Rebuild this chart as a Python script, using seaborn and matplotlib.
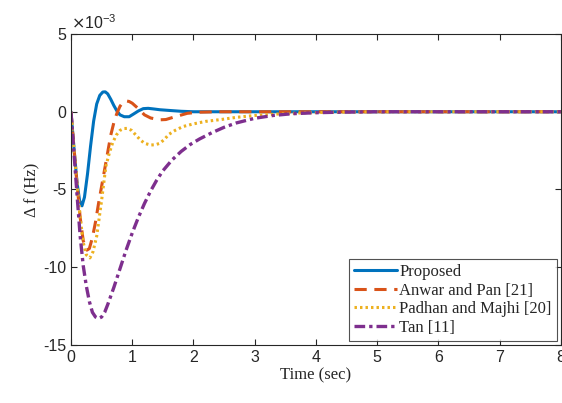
import numpy as np
import pandas as pd
import matplotlib
matplotlib.use("Agg")
import matplotlib.pyplot as plt
import seaborn as sns
from matplotlib.ticker import FuncFormatter

# ---- data (values in 1e-3 Hz) ----
t_prop = [0, 0.05, 0.1, 0.14, 0.18, 0.22, 0.27, 0.32, 0.37, 0.42, 0.47, 0.52, 0.56, 0.6, 0.65,
          0.7, 0.75, 0.8, 0.87, 0.95, 1.02, 1.1, 1.18, 1.26, 1.35, 1.45, 1.62, 1.8, 2.0, 2.5, 3.0, 8.0]
v_prop = [0, -2.4, -4.6, -5.7, -6.05, -5.5, -4.0, -2.2, -0.6, 0.5, 1.05, 1.27, 1.28, 1.15, 0.8,
          0.4, 0.05, -0.2, -0.32, -0.32, -0.15, 0.05, 0.2, 0.22, 0.18, 0.13, 0.08, 0.03, 0.0, 0.0, 0.0, 0.0]

t_anwar = [0, 0.05, 0.1, 0.15, 0.2, 0.26, 0.3, 0.35, 0.4, 0.45, 0.5, 0.55, 0.6, 0.65, 0.7, 0.75,
           0.8, 0.85, 0.9, 0.95, 1.0, 1.1, 1.2, 1.3, 1.45, 1.55, 1.7, 1.9, 2.1, 2.4, 2.8, 8.0]
v_anwar = [0, -2.4, -4.7, -6.8, -8.3, -8.9, -8.8, -8.1, -7.1, -5.9, -4.8, -3.7, -2.6, -1.5, -0.7,
           -0.1, 0.35, 0.62, 0.7, 0.66, 0.55, 0.2, -0.2, -0.4, -0.52, -0.5, -0.32, -0.1, -0.03, 0.0, 0.0, 0.0]

t_padhan = [0, 0.05, 0.1, 0.15, 0.2, 0.25, 0.31, 0.36, 0.42, 0.5, 0.57, 0.63, 0.68, 0.74, 0.8,
            0.86, 0.92, 0.99, 1.06, 1.13, 1.2, 1.3, 1.38, 1.45, 1.52, 1.6, 1.7, 1.83, 2.0, 2.2,
            2.45, 2.7, 3.0, 3.4, 3.8, 4.3, 5.0, 8.0]
v_padhan = [0, -2.4, -4.7, -6.8, -8.4, -9.2, -9.4, -9.0, -8.0, -5.7, -3.5, -2.6, -2.0, -1.5, -1.2,
            -1.08, -1.07, -1.2, -1.5, -1.8, -2.03, -2.14, -2.12, -2.03, -1.8, -1.45, -1.2, -0.95, -0.78, -0.62,
            -0.5, -0.36, -0.24, -0.14, -0.07, -0.03, 0.0, 0.0]

t_tan = [0, 0.05, 0.1, 0.15, 0.2, 0.25, 0.3, 0.35, 0.4, 0.45, 0.5, 0.55, 0.6, 0.7, 0.8, 0.9,
         1.0, 1.1, 1.2, 1.3, 1.4, 1.5, 1.65, 1.8, 1.95, 2.1, 2.3, 2.5, 2.7, 3.0, 3.3, 3.6, 4.0,
         4.5, 5.0, 8.0]
v_tan = [0, -2.7, -5.4, -8.0, -9.9, -11.2, -12.2, -12.9, -13.2, -13.3, -13.2, -12.9, -12.4, -11.3,
         -10.1, -8.9, -7.8, -6.8, -5.9, -5.1, -4.4, -3.8, -3.1, -2.55, -2.1, -1.75, -1.35, -1.0, -0.72,
         -0.42, -0.24, -0.13, -0.06, -0.02, 0.0, 0.0]

labels = ["Proposed", "Anwar and Pan [21]", "Padhan and Majhi [20]", "Tan [11]"]
colors = ["#0072BD", "#D95319", "#EDB120", "#7E2F8E"]
x_ticks = [0, 1, 2, 3, 4, 5, 6, 7, 8]
y_ticks = [-15, -10, -5, 0, 5]

sns.set_theme(style="ticks")
plt.rcParams.update({
    "font.family": ["Liberation Sans", "DejaVu Sans"],
    "xtick.direction": "in",
    "ytick.direction": "in",
    "axes.edgecolor": "#262626",
    "axes.linewidth": 0.8,
    "axes.unicode_minus": False,
})

fig = plt.figure(figsize=(5.62, 4.03), dpi=100)
ax = fig.add_axes([0.1263, 0.144, 0.8717, 0.7716])

series = [(t_prop, v_prop), (t_anwar, v_anwar), (t_padhan, v_padhan), (t_tan, v_tan)]
styles = ["-", (0, (4.0, 2.5)), (0, (0.8, 1.0)), (0, (3.2, 1.2, 1.0, 1.2))]
widths = [2.2, 2.2, 2.2, 2.4]

for (t, v), lab, col, ls, lw in zip(series, labels, colors, styles, widths):
    df = pd.DataFrame({"t": t, "v": np.array(v) * 1e-3})
    sns.lineplot(data=df, x="t", y="v", ax=ax, color=col, linestyle=ls, linewidth=lw,
                 label=lab, estimator=None, sort=False)

ax.set_xlim(0, 8)
ax.set_ylim(-15e-3, 5e-3)
ax.set_xticks(x_ticks)
ax.set_yticks(np.array(y_ticks) * 1e-3)
ax.yaxis.set_major_formatter(FuncFormatter(lambda v, p: f"{round(v * 1e3):d}"))
ax.tick_params(labelsize=11.5, length=4, width=0.8, top=True, right=True, colors="#262626")
for s in ax.spines.values():
    s.set_visible(True)
ax.text(0.0, 1.008, r"$\times$10$^{\mathregular{-3}}$", transform=ax.transAxes,
        fontsize=11.5, color="#262626", ha="left", va="bottom")

serif = ["Liberation Serif", "DejaVu Serif"]
ax.set_xlabel("Time (sec)", family=serif, fontsize=12, labelpad=2)
ax.set_ylabel("Δ f (Hz)", family=serif, fontsize=12, labelpad=2)

leg = ax.legend(loc="lower right", prop={"family": serif, "size": 12}, frameon=True,
                fancybox=False, edgecolor="#262626", handlelength=2.6, handletextpad=0.15,
                borderpad=0.3, labelspacing=0.15, borderaxespad=0.25)
leg.get_frame().set_linewidth(0.8)

fig.savefig("out.png", dpi=100)
